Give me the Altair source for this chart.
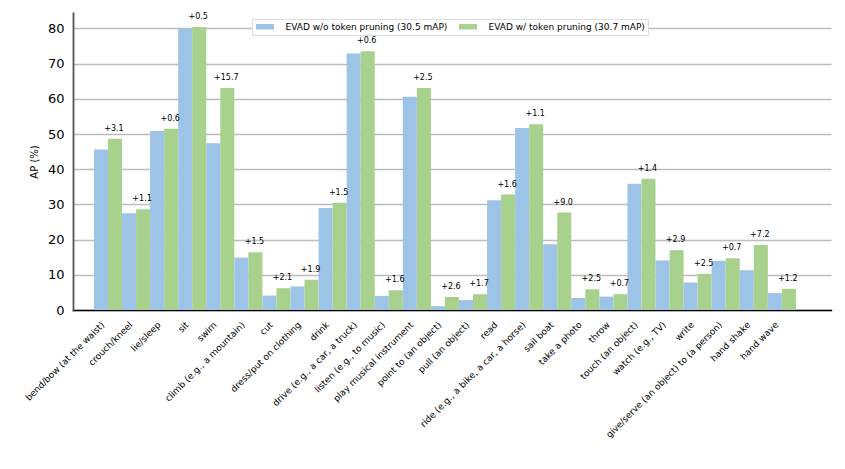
import altair as alt
import pandas as pd

categories = [
    "bend/bow (at the waist)", "crouch/kneel", "lie/sleep", "sit", "swim",
    "climb (e.g., a mountain)", "cut", "dress/put on clothing", "drink",
    "drive (e.g., a car, a truck)", "listen (e.g., to music)",
    "play musical instrument", "point to (an object)", "pull (an object)",
    "read", "ride (e.g., a bike, a car, a horse)", "sail boat", "take a photo",
    "throw", "touch (an object)", "watch (e.g., TV)", "write",
    "give/serve (an object) to (a person)", "hand shake", "hand wave",
]
ap_without = [45.6, 27.5, 50.9, 79.9, 47.4, 14.9, 4.1, 6.7, 29.0, 72.9, 4.0,
              60.6, 1.1, 2.8, 31.2, 51.7, 18.7, 3.4, 3.8, 35.9, 14.1, 7.8,
              14.0, 11.3, 4.8]
ap_with = [48.7, 28.6, 51.5, 80.4, 63.1, 16.4, 6.2, 8.6, 30.5, 73.5, 5.6,
           63.1, 3.7, 4.5, 32.8, 52.8, 27.7, 5.9, 4.5, 37.3, 17.0, 10.3,
           14.7, 18.5, 6.0]
gains = ["+3.1", "+1.1", "+0.6", "+0.5", "+15.7", "+1.5", "+2.1", "+1.9",
         "+1.5", "+0.6", "+1.6", "+2.5", "+2.6", "+1.7", "+1.6", "+1.1",
         "+9.0", "+2.5", "+0.7", "+1.4", "+2.9", "+2.5", "+0.7", "+7.2",
         "+1.2"]
y_ticks = [0, 10, 20, 30, 40, 50, 60, 70, 80]
series_names = ["EVAD w/o token pruning (30.5 mAP)",
                "EVAD w/ token pruning (30.7 mAP)"]
series_colors = ["#9dc3e6", "#a9d18e"]

rows = []
for i, c in enumerate(categories):
    rows.append({"idx": i, "cat": c, "series": series_names[0], "s": 0,
                 "value": ap_without[i], "gain": ""})
    rows.append({"idx": i, "cat": c, "series": series_names[1], "s": 1,
                 "value": ap_with[i], "gain": gains[i]})
df = pd.DataFrame(rows)

FONT = "DejaVu Sans"
cat_js = "[" + ",".join('"' + c + '"' for c in categories) + "]"

xscale = alt.Scale(domain=[-1.246, 25.75], nice=False, zero=False)
yscale = alt.Scale(domain=[0, 84.4], nice=False)

# label anchors sit a little left of each group centre (rotated text, right-aligned box)
label_shift = 0.3
x_axis = alt.Axis(values=[i - label_shift for i in range(len(categories))],
                  labelExpr=cat_js + "[round(datum.value)]",
                  labelAngle=-45, labelAlign="right",
                  labelBaseline="top", labelFontSize=9,
                  labelFont=FONT, labelColor="#000000",
                  labelPadding=10, ticks=False, grid=False,
                  domainColor="#000000", domainWidth=1.5,
                  title=None, labelOverlap=False, labelBound=False,
                  labelFlush=False)
y_axis = alt.Axis(values=y_ticks, ticks=False, labelOverlap=False,
                  labelPadding=9, labelFontSize=13, labelFont=FONT,
                  labelColor="#000000", gridColor="#bdbdbd",
                  gridWidth=1.3, domainColor="#555555",
                  domainWidth=1.8, title="AP (%)", titleFont=FONT,
                  titleFontSize=10, titleFontWeight="normal",
                  titleColor="#000000", titlePadding=8)

base = alt.Chart(df).transform_calculate(
    x0="datum.idx - 0.5 + 0.5 * datum.s",
    x1="datum.idx + 0.5 * datum.s",
    xc="datum.idx + 0.25",
)

bars = base.mark_bar().encode(
    x=alt.X("x0:Q", scale=xscale, axis=x_axis),
    x2="x1:Q",
    y=alt.Y("value:Q", scale=yscale, axis=y_axis),
    y2=alt.datum(0),
    color=alt.Color("series:N",
                    scale=alt.Scale(domain=series_names, range=series_colors),
                    legend=alt.Legend(
                        orient="none", legendX=179, legendY=6,
                        direction="horizontal", title=None,
                        symbolType="M-2,-0.6L2,-0.6L2,0.6L-2,0.6Z",
                        symbolSize=81, symbolStrokeWidth=0,
                        symbolOffset=5.5,
                        labelFont=FONT, labelFontSize=9,
                        labelColor="#000000", columnPadding=10,
                        fillColor="#ffffff", strokeColor="#dddddd",
                        padding=3, labelOffset=16, labelLimit=400)),
)

labels = base.transform_filter("datum.s == 1").mark_text(
    font=FONT, fontSize=8, color="#000000", dy=-6, dx=-1, baseline="bottom"
).encode(
    x=alt.X("xc:Q", scale=xscale, axis=x_axis),
    y=alt.Y("value:Q", scale=yscale, axis=y_axis),
    text="gain:N",
)

chart = alt.layer(bars, labels).properties(
    width=758, height=297,
    autosize=alt.AutoSizeParams(type="none"),
    padding={"left": 65, "top": 5, "right": 5, "bottom": 150},
).configure_view(stroke=None).configure_axis(domainCap="square")

chart.save("out.html", embed_options={"renderer": "svg", "actions": False})
